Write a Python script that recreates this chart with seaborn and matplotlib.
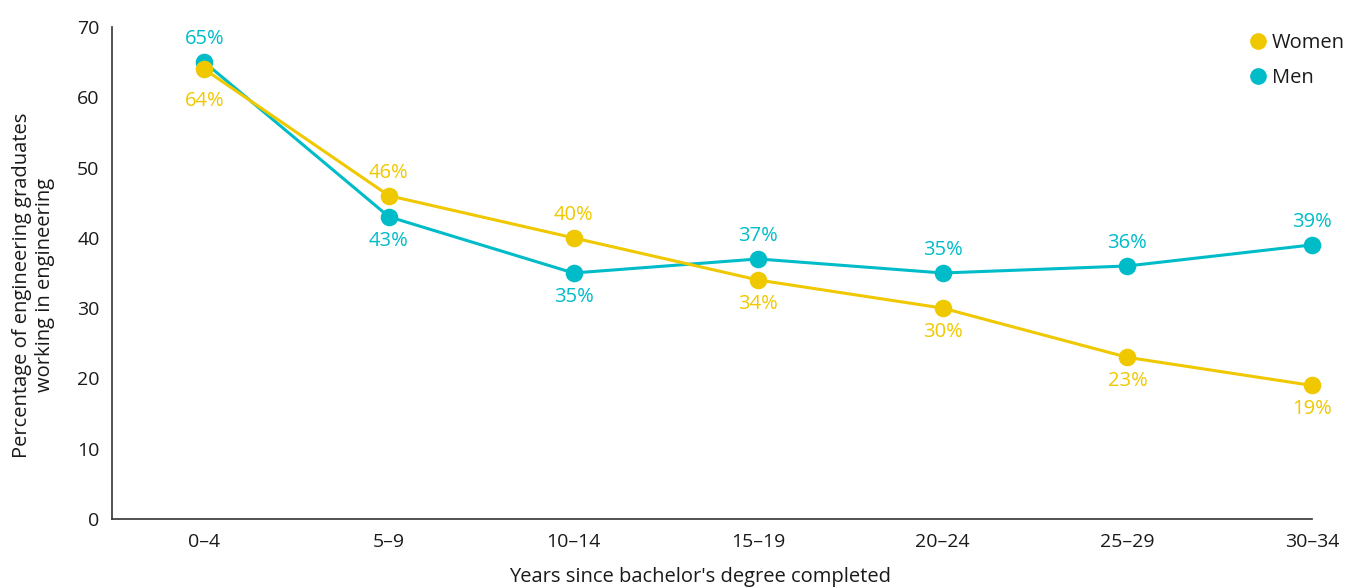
import matplotlib
matplotlib.use("Agg")
import matplotlib.pyplot as plt
from matplotlib.lines import Line2D
import seaborn as sns
import pandas as pd

categories = ["0–4", "5–9", "10–14", "15–19", "20–24", "25–29", "30–34"]
women = [64, 46, 40, 34, 30, 23, 19]
men = [65, 43, 35, 37, 35, 36, 39]
y_ticks = [0, 10, 20, 30, 40, 50, 60, 70]
# label placement: +1 above, -1 below
women_pos = [-1, 1, 1, -1, -1, -1, -1]
men_pos = [1, -1, -1, 1, 1, 1, 1]

YELLOW = "#F0C800"
TEAL = "#00BCC8"
TXT = "#1a1a1a"
PX = 72 / 100  # points per pixel

sns.set_theme(style="white")
plt.rcParams["font.family"] = ["Open Sans", "DejaVu Sans"]

df = pd.DataFrame({
    "cat": categories * 2,
    "value": women + men,
    "group": ["Women"] * len(categories) + ["Men"] * len(categories),
})

fig = plt.figure(figsize=(13.51, 5.88), dpi=100)
ax = fig.add_axes([112 / 1351, 1 - 519 / 588, (1312 - 112) / 1351, (519 - 27) / 588])

sns.pointplot(data=df, x="cat", y="value", hue="group", order=categories,
              hue_order=["Men", "Women"], palette={"Women": YELLOW, "Men": TEAL},
              errorbar=None, markers="o", linestyles="-", dodge=False,
              markersize=11, linewidth=2.2, ax=ax, legend=False)
for ln in ax.lines:
    ln.set_clip_on(False)
for c in ax.collections:
    c.set_clip_on(False)

def annotate(vals, pos, color):
    for i, (v, p) in enumerate(zip(vals, pos)):
        off = 23 if p > 0 else -24
        if i == 0 and p < 0:
            off = -32
        ax.annotate(f"{v}%", (i, v), xytext=(0, off * PX), textcoords="offset points",
                    ha="center", va="center", color=color, fontsize=14.5)

annotate(women, women_pos, YELLOW)
annotate(men, men_pos, TEAL)

ax.set_xlim(-0.5, len(categories) - 1)
ax.set_ylim(0, 70)
ax.set_yticks(y_ticks)
ax.set_yticklabels([str(t) for t in y_ticks])
for s in ["top", "right"]:
    ax.spines[s].set_visible(False)
for s in ["left", "bottom"]:
    ax.spines[s].set_color("#333333")
    ax.spines[s].set_linewidth(1.2)
ax.tick_params(axis="both", direction="in", length=7, width=1.2, color="#333333",
               labelsize=14, labelcolor=TXT)
ax.tick_params(axis="y", pad=9)
ax.tick_params(axis="x", pad=10)

ax.set_xlabel("Years since bachelor's degree completed", fontsize=14.5, color=TXT)
ax.xaxis.set_label_coords(0.49, (519 - 577) / 492)
ax.xaxis.label.set_va("center")
ax.set_ylabel("Percentage of engineering graduates\nworking in engineering", fontsize=14.5,
              color=TXT, linespacing=1.2)
ax.yaxis.set_label_coords((33 - 112) / 1200, (519 - 285) / 492)
ax.yaxis.label.set_va("center")

handles = [Line2D([], [], marker="o", linestyle="none", color=YELLOW, markersize=11),
           Line2D([], [], marker="o", linestyle="none", color=TEAL, markersize=11)]
fig.legend(handles, ["Women", "Men"], loc="upper left",
           bbox_to_anchor=(1248 / 1351, 1 - 33 / 588), borderaxespad=0, borderpad=0,
           frameon=False, fontsize=14.5, handletextpad=0.2, labelspacing=0.75,
           handlelength=1.0, labelcolor=TXT)

fig.savefig("out.png", dpi=100)
